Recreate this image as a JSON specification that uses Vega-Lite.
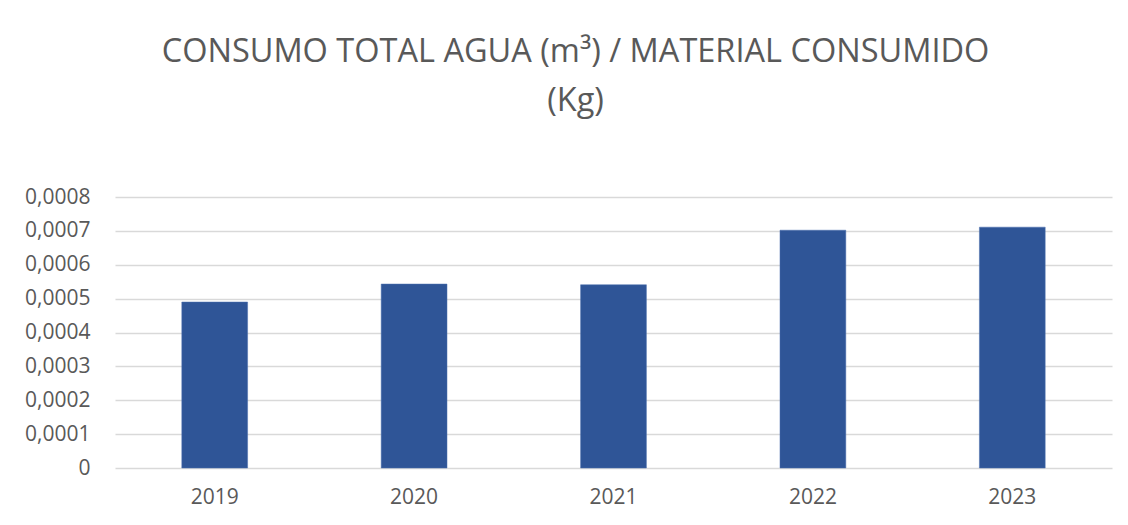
{
  "$schema": "https://vega.github.io/schema/vega-lite/v6.json",
  "autosize": "none",
  "width": 997,
  "height": 271,
  "padding": {"left": 115, "top": 197, "right": 16, "bottom": 57},
  "background": "white",
  "title": {
    "text": ["CONSUMO TOTAL AGUA (m³) / MATERIAL CONSUMIDO", "(Kg)"],
    "font": "Open Sans",
    "fontSize": 32.5,
    "fontWeight": "normal",
    "color": "#595959",
    "lineHeight": 49,
    "anchor": "middle",
    "dx": -38,
    "offset": 69
  },
  "data": {
    "values": [
      {"year": "2019", "value": 0.00049},
      {"year": "2020", "value": 0.000543},
      {"year": "2021", "value": 0.000541},
      {"year": "2022", "value": 0.000702},
      {"year": "2023", "value": 0.000711}
    ]
  },
  "mark": {"type": "bar", "color": "#2F5597", "stroke": "#4A6FAF", "strokeWidth": 0.5},
  "encoding": {
    "x": {
      "field": "year",
      "type": "nominal",
      "scale": {"paddingInner": 0.67, "paddingOuter": 0.335},
      "axis": {
        "title": null,
        "labelAngle": 0,
        "domain": false,
        "ticks": false,
        "labelPadding": 18,
        "labelFont": "Open Sans",
        "labelFontSize": 21,
        "labelColor": "#595959"
      }
    },
    "y": {
      "field": "value",
      "type": "quantitative",
      "scale": {"domain": [0, 0.0008]},
      "axis": {
        "title": null,
        "values": [0, 0.0001, 0.0002, 0.0003, 0.0004, 0.0005, 0.0006, 0.0007, 0.0008],
        "labelExpr": "datum.value == 0 ? '0' : replace(format(datum.value, '.4f'), '.', ',')",
        "domain": false,
        "ticks": false,
        "labelPadding": 25,
        "labelFont": "Open Sans",
        "labelFontSize": 21,
        "labelColor": "#595959",
        "gridColor": "#D9D9D9",
        "gridWidth": 1.5
      }
    }
  },
  "config": {"view": {"stroke": null}}
}
